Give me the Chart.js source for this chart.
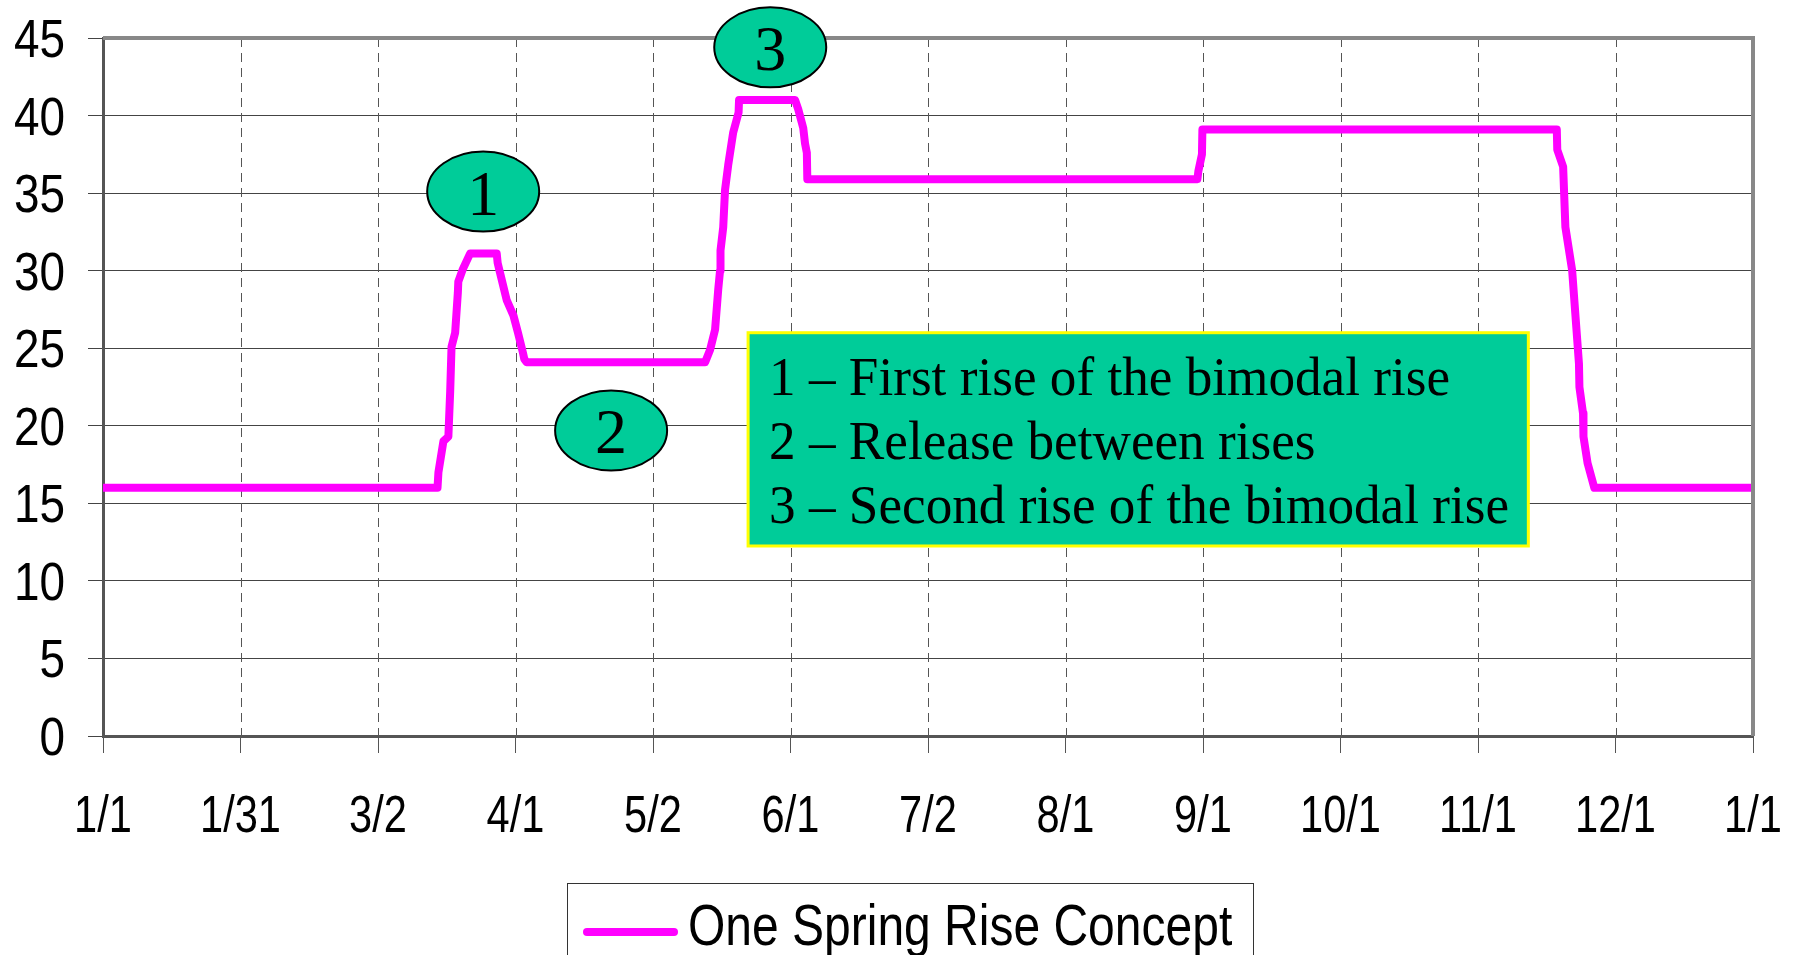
<!DOCTYPE html>
<html lang="en">
<head>
<meta charset="UTF-8" />
<title>One Spring Rise Concept</title>
<script src="https://cdn.jsdelivr.net/npm/chart.js@4"></script>
<style>
  html, body { margin: 0; padding: 0; background: #fff; }
  canvas { display: block; }
</style>
</head>
<body>
<canvas id="riseChart" width="1795" height="955"></canvas>
<script>
const days = [0, 74, 74.2, 75.3, 76.4, 76.8, 77.1, 77.9, 78.5, 78.6,
  79.6, 81.2, 87.1, 87.3, 87.8, 89.3, 90.8, 91.8, 92.9, 93.2,
  93.7, 133.2, 134.3, 135.4, 136.1, 136.5, 136.6, 137.2, 137.6, 138.3,
  139.4, 140.6, 140.7, 153.1, 153.8, 154.9, 155.3, 155.7, 155.8, 242.1,
  242.3, 243.1, 243.2, 321.6, 321.7, 323.0, 323.5, 325.0, 326.5, 326.6,
  327.4, 327.5, 328.4, 329.9, 365];
const values = [16, 16, 17, 19, 19.3, 22.2, 25.1, 26, 28.6, 29.3,
  30.1, 31.1, 31.1, 30.5, 29.9, 28.1, 27.1, 26, 24.7, 24.3,
  24.1, 24.1, 24.9, 26.2, 28.8, 30, 31.3, 32.8, 35.2, 36.8,
  38.9, 40.2, 41, 41, 40.4, 39.2, 38.2, 37.6, 35.9, 35.9,
  36.4, 37.5, 39.1, 39.1, 37.8, 36.7, 32.8, 30, 24, 22.5,
  20.8, 19.3, 17.6, 16, 16];

const seriesName = 'One Spring Rise Concept';
const xTickLabels = ['1/1', '1/31', '3/2', '4/1', '5/2', '6/1', '7/2', '8/1', '9/1', '10/1', '11/1', '12/1', '1/1'];
const yMin = 0;
const yMax = 45;
const yStep = 5;

// numbered callouts, anchored in data units (day, value)
const calloutLabels = ['1', '2', '3'];
const calloutDays = [84.1, 112.4, 147.6];
const calloutValues = [35.1, 19.7, 44.4];

// note box: corners in data units
const noteLines = [
  '1 \u2013 First rise of the bimodal rise',
  '2 \u2013 Release between rises',
  '3 \u2013 Second rise of the bimodal rise'
];
const noteDays = [142.7, 315.3];
const noteValues = [26.0, 12.25];

const SANS = '"Liberation Sans", Arial, sans-serif';
const SERIF = '"Liberation Serif", "Times New Roman", serif';
const TEAL = '#00CC99';
const MAGENTA = '#FF00FF';

const points = days.map((d, i) => ({ x: d, y: values[i] }));

// the original uses Arial Narrow; squeeze a regular face horizontally instead
function narrowText(ctx, text, x, y, align, squeeze) {
  ctx.save();
  ctx.translate(x, y);
  ctx.scale(squeeze, 1);
  ctx.textAlign = align;
  ctx.textBaseline = 'alphabetic';
  ctx.fillText(text, 0, 0);
  ctx.restore();
}

function noPadding(scale) {
  scale.paddingLeft = 0;
  scale.paddingRight = 0;
  scale.paddingTop = 0;
  scale.paddingBottom = 0;
}

const extras = {
  id: 'extras',
  beforeDatasetsDraw(chart) {
    // dashed vertical grid at every x tick
    const { ctx, chartArea: a, scales: { x } } = chart;
    ctx.save();
    ctx.strokeStyle = '#555';
    ctx.lineWidth = 1;
    ctx.setLineDash([9, 6]);
    x.ticks.forEach((t) => {
      const px = Math.round(x.getPixelForValue(t.value)) + 0.5;
      ctx.beginPath();
      ctx.moveTo(px, a.top);
      ctx.lineTo(px, a.bottom);
      ctx.stroke();
    });
    ctx.restore();
  },
  afterDatasetsDraw(chart) {
    const { ctx, chartArea: a, scales: { x, y } } = chart;
    ctx.save();

    // heavy grey frame on top and right of the plot area
    ctx.strokeStyle = '#888';
    ctx.lineWidth = 4;
    ctx.beginPath();
    ctx.moveTo(a.left, a.top);
    ctx.lineTo(a.right, a.top);
    ctx.lineTo(a.right, a.bottom);
    ctx.stroke();

    // callout ellipses
    calloutLabels.forEach((label, i) => {
      const cx = x.getPixelForValue(calloutDays[i]);
      const cy = y.getPixelForValue(calloutValues[i]);
      ctx.beginPath();
      ctx.ellipse(cx, cy, 56, 40, 0, 0, Math.PI * 2);
      ctx.fillStyle = TEAL;
      ctx.fill();
      ctx.lineWidth = 2;
      ctx.strokeStyle = '#000';
      ctx.stroke();
      ctx.fillStyle = '#000';
      ctx.font = '64px ' + SERIF;
      narrowText(ctx, label, cx, cy + 23, 'center', 1);
    });

    // note box
    const left = x.getPixelForValue(noteDays[0]);
    const right = x.getPixelForValue(noteDays[1]);
    const top = y.getPixelForValue(noteValues[0]);
    const bottom = y.getPixelForValue(noteValues[1]);
    ctx.fillStyle = TEAL;
    ctx.fillRect(left, top, right - left, bottom - top);
    ctx.strokeStyle = '#FFFF00';
    ctx.lineWidth = 3;
    ctx.strokeRect(left, top, right - left, bottom - top);
    ctx.fillStyle = '#000';
    ctx.font = '55px ' + SERIF;
    noteLines.forEach((line, i) => {
      narrowText(ctx, line, left + 21, top + 62 + i * 64, 'left', 0.967);
    });

    ctx.restore();
  },
  afterDraw(chart) {
    const { ctx, scales: { x, y } } = chart;
    const ds = chart.data.datasets[0];
    ctx.save();
    ctx.fillStyle = '#000';

    // tick labels, placed by the scales
    ctx.font = '54px ' + SANS;
    y.ticks.forEach((t) => {
      narrowText(ctx, String(t.value), y.right - 38, y.getPixelForValue(t.value) + 19, 'right', 0.85);
    });
    ctx.font = '52px ' + SANS;
    x.ticks.forEach((t, i) => {
      narrowText(ctx, xTickLabels[i], x.getPixelForValue(t.value), x.top + 96, 'center', 0.8);
    });

    // boxed legend under the axis
    ctx.strokeStyle = '#333';
    ctx.lineWidth = 1;
    ctx.strokeRect(567.5, 883.5, 686, 90);
    ctx.strokeStyle = ds.borderColor;
    ctx.lineWidth = 8;
    ctx.lineCap = 'round';
    ctx.beginPath();
    ctx.moveTo(587, 932);
    ctx.lineTo(674, 932);
    ctx.stroke();
    ctx.font = '57px ' + SANS;
    narrowText(ctx, ds.label, 688, 945, 'left', 0.842);
    ctx.restore();
  }
};

new Chart(document.getElementById('riseChart'), {
  type: 'line',
  data: {
    datasets: [{
      label: seriesName,
      data: points,
      borderColor: MAGENTA,
      borderWidth: 8,
      borderJoinStyle: 'round',
      borderCapStyle: 'round',
      pointRadius: 0,
      tension: 0,
      fill: false
    }]
  },
  options: {
    responsive: false,
    animation: false,
    layout: { padding: { top: 38, right: 42, left: 0, bottom: 0 } },
    plugins: {
      legend: { display: false },
      tooltip: { enabled: false }
    },
    scales: {
      x: {
        type: 'linear',
        min: 0,
        max: 365,
        afterBuildTicks: (scale) => {
          scale.ticks = xTickLabels.map((_, i) => ({ value: i * 365 / 12 }));
        },
        afterFit: (scale) => { scale.height = 219; noPadding(scale); },
        ticks: { display: false, autoSkip: false },
        grid: {
          drawOnChartArea: false,
          tickLength: 17,
          tickColor: '#555',
          tickWidth: 1
        },
        border: { display: true, color: '#555', width: 3 }
      },
      y: {
        min: yMin,
        max: yMax,
        afterFit: (scale) => { scale.width = 103; noPadding(scale); },
        ticks: { display: false, stepSize: yStep },
        grid: {
          color: '#444',
          lineWidth: 1,
          tickLength: 15,
          tickColor: '#444'
        },
        border: { display: true, color: '#555', width: 3 }
      }
    }
  },
  plugins: [extras]
});
</script>
</body>
</html>
